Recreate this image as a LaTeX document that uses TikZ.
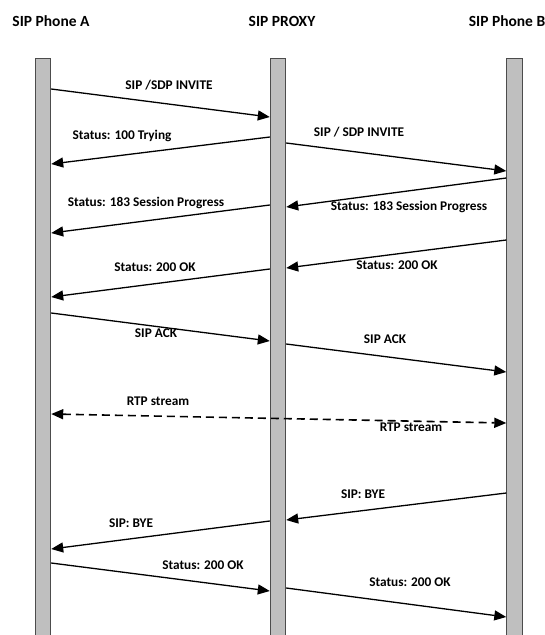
\documentclass[tikz,border=0pt]{standalone}
\usepackage{fontspec}
\setmainfont{Carlito}
\usetikzlibrary{arrows.meta, positioning}

\begin{document}
\begin{tikzpicture}[
		x=1pt, y=-1pt,
		lifeline/.style={
				draw=black!70,
				fill=black!25,
				line width=0.9pt,
				minimum width=15.5pt,
				minimum height=590pt,
				anchor=north
			},
		msg/.style={-{Triangle[length=12pt, width=10pt]}, line width=1.3pt},
		rtp/.style={
				{Triangle[length=12pt, width=10pt]}-{Triangle[length=12pt, width=10pt]},
				line width=1.6pt,
				dash pattern=on 8pt off 5pt
			},
		title/.style={font=\fontsize{15.5}{18}\selectfont\bfseries, inner sep=0pt},
		lbl/.style={font=\fontsize{13.3}{15}\selectfont\bfseries, inner sep=0pt}
	]
	\useasboundingbox (0,0) rectangle (545,635);

	% participants
	\node[title] (tA) at (51, 21) {SIP Phone A};
	\node[title] (tP) at (282, 21) {SIP PROXY};
	\node[title] (tB) at (507, 21) {SIP Phone B};

	\node[lifeline] (barA) at (43, 58) {};
	\node[lifeline] (barP) at (278, 58) {};
	\node[lifeline] (barB) at (514.5, 58) {};

	% call setup
	\draw[msg] (barA.east |- 0,89) -- (barP.west |- 0,117);
	\node[lbl] (l1) at (169, 85) {SIP /SDP INVITE};

	\draw[msg] (barP.west |- 0,137) -- (barA.east |- 0,164);
	\node[lbl] (l2) at (122, 136) {Status: 100 Trying};

	\draw[msg] (barP.east |- 0,143) -- (barB.west |- 0,171);
	\node[lbl] (l3) at (359, 132) {SIP / SDP INVITE};

	\draw[msg] (barB.west |- 0,178) -- (barP.east |- 0,207);
	\node[lbl] (l4) at (409, 207) {Status: 183 Session Progress};

	\draw[msg] (barP.west |- 0,205) -- (barA.east |- 0,233);
	\node[lbl] (l5) at (146, 203) {Status: 183 Session Progress};

	\draw[msg] (barB.west |- 0,240) -- (barP.east |- 0,268);
	\node[lbl] (l6) at (397, 265) {Status: 200 OK};

	\draw[msg] (barP.west |- 0,269) -- (barA.east |- 0,297);
	\node[lbl] (l7) at (155, 267) {Status: 200 OK};

	\draw[msg] (barA.east |- 0,313) -- (barP.west |- 0,341);
	\node[lbl] (l8) at (156, 333) {SIP ACK};

	\draw[msg] (barP.east |- 0,344) -- (barB.west |- 0,372);
	\node[lbl] (l9) at (385, 339) {SIP ACK};

	% media
	\draw[rtp] (barA.east |- 0,414) -- (barB.west |- 0,423);
	\node[lbl] (l10) at (158, 401) {RTP stream};
	\node[lbl] (l11) at (411, 427) {RTP stream};

	% teardown
	\draw[msg] (barB.west |- 0,493) -- (barP.east |- 0,520);
	\node[lbl] (l12) at (363, 494) {SIP: BYE};

	\draw[msg] (barP.west |- 0,521) -- (barA.east |- 0,549);
	\node[lbl] (l13) at (131, 523) {SIP: BYE};

	\draw[msg] (barA.east |- 0,563) -- (barP.west |- 0,591);
	\node[lbl] (l14) at (203, 565) {Status: 200 OK};

	\draw[msg] (barP.east |- 0,588) -- (barB.west |- 0,617);
	\node[lbl] (l15) at (410, 582) {Status: 200 OK};
\end{tikzpicture}
\end{document}
